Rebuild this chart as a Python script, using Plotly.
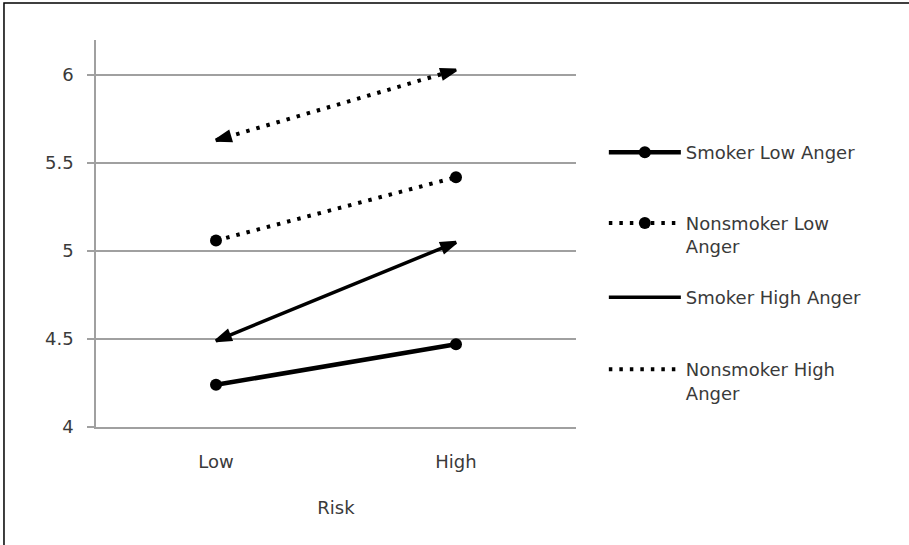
import plotly.graph_objects as go

categories = ["Low", "High"]
series_names = ["Smoker Low Anger", "Nonsmoker Low<br>Anger", "Smoker High Anger", "Nonsmoker High<br>Anger"]
smoker_low_anger = [4.24, 4.47]
nonsmoker_low_anger = [5.06, 5.42]
smoker_high_anger = [4.49, 5.05]
nonsmoker_high_anger = [5.63, 6.03]
y_ticks = [4, 4.5, 5, 5.5, 6]
y_tick_labels = ["4", "4.5", "5", "5.5", "6"]

FONT = "DejaVu Sans"
TXT = "#3a3a3a"
DOT = "3.5px,7px"
fig = go.Figure()

legend_ids = ["legend", "legend2", "legend3", "legend4"]

# Low anger series: line with oval end markers
for i, (vals, dash) in enumerate([(smoker_low_anger, "solid"), (nonsmoker_low_anger, DOT)]):
    fig.add_trace(go.Scatter(
        x=categories, y=vals, name=series_names[i], mode="lines+markers",
        line=dict(color="black", width=4.5 if dash == "solid" else 4, dash=dash),
        marker=dict(symbol="circle", size=12, color="black"),
        legend=legend_ids[i],
    ))

# High anger series: line with arrowheads at both ends
for j, (vals, dash) in enumerate([(smoker_high_anger, "solid"), (nonsmoker_high_anger, DOT)]):
    i = j + 2
    fig.add_trace(go.Scatter(
        x=categories, y=vals, name=series_names[i], mode="lines",
        line=dict(color="black", width=3.5 if dash == "solid" else 4, dash=dash),
        legend=legend_ids[i],
    ))
    # arrowheads: path Low->High->Low so each end arrow points outward
    fig.add_trace(go.Scatter(
        x=[categories[0], categories[1], categories[0]],
        y=[vals[0], vals[1], vals[0]],
        mode="markers", showlegend=False, hoverinfo="skip",
        marker=dict(symbol="arrow", size=[0, 15, 15], color="black", opacity=1,
                    angleref="previous", line=dict(width=3, color="black")),
    ))

fig.add_shape(type="rect", xref="paper", yref="paper",
              x0=-0.1917, x1=1.75, y0=-0.35, y1=1.0956,
              line=dict(color="black", width=1.5), fillcolor="rgba(0,0,0,0)", layer="above")

legend_common = dict(x=1.058, xanchor="left", yanchor="top",
                     font=dict(family=FONT, size=18, color=TXT),
                     valign="top", itemwidth=72, bgcolor="rgba(0,0,0,0)")

fig.update_layout(
    width=909, height=545,
    margin=dict(l=96, r=333, t=40, b=118),
    paper_bgcolor="white", plot_bgcolor="white",
    font=dict(family=FONT, size=18, color=TXT),
    showlegend=True,
    legend=dict(y=0.757, **legend_common),
    legend2=dict(y=0.574, **legend_common),
    legend3=dict(y=0.382, **legend_common),
    legend4=dict(y=0.196, **legend_common),
    xaxis=dict(type="category", range=[-0.5, 1.5], showgrid=False,
               showline=True, linecolor="#A0A0A0", linewidth=1.5,
               ticks="", tickfont=dict(family=FONT, size=18, color=TXT),
               ticklabelstandoff=18,
               title=dict(text="Risk", font=dict(family=FONT, size=18, color=TXT), standoff=30),
               fixedrange=True),
    yaxis=dict(range=[4, 6.2], tickvals=y_ticks, ticktext=y_tick_labels,
               showgrid=True, gridcolor="#A0A0A0", gridwidth=1.5,
               showline=True, linecolor="#A0A0A0", linewidth=1.5,
               ticks="outside", ticklen=7, tickcolor="#A0A0A0", tickwidth=1.5,
               ticklabelstandoff=10,
               tickfont=dict(family=FONT, size=18, color=TXT), zeroline=False),
)

fig.write_html("out.html", config={"displayModeBar": False},
               post_script="document.body.style.margin='0';document.body.style.overflow='hidden';")
